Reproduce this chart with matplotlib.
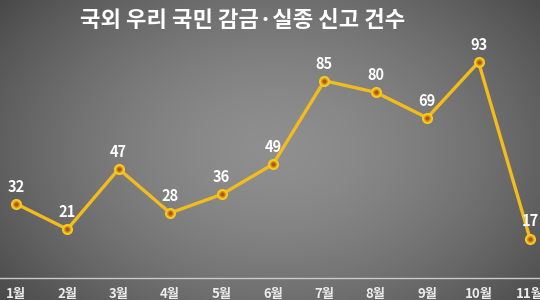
import numpy as np
import matplotlib
matplotlib.use("Agg")
import matplotlib.pyplot as plt

plt.rcParams['font.family'] = ['Noto Sans CJK KR', 'DejaVu Sans']

# data
months = ['1월', '2월', '3월', '4월', '5월', '6월', '7월', '8월', '9월', '10월', '11월']
counts = [32, 21, 47, 28, 36, 49, 85, 80, 69, 93, 17]
title = '국외 우리 국민 감금·실종 신고 건수'

fig = plt.figure(figsize=(5.4, 3.0), dpi=100)
ax = fig.add_axes([0, 0, 1, 1])
x = np.arange(len(months))
ax.set_xlim(-0.311, 10.195)
ax.set_ylim(-9.5, 119.8)
ax.axis('off')

# radial grey background
ny, nx = 300, 540
yy, xx = np.mgrid[0:ny, 0:nx]
r = np.sqrt(((xx - 275) / 330.0) ** 2 + ((yy - 150) / 230.0) ** 2)
shade = np.clip(0.56 - 0.25 * r ** 1.6, 0.27, 0.6)
bg = np.dstack([shade, shade, shade])
ax.imshow(bg, extent=(-0.311, 10.195, -9.5, 119.8), aspect='auto', zorder=0)

# baseline
ax.axhline(0, color='#c9c9c9', lw=1.0, zorder=1)

ax.plot(x, counts, color='#f2bc1b', lw=2.4, marker='o', markersize=6.5,
        markerfacecolor='#d39a12', markeredgecolor='#f7c823',
        markeredgewidth=1.5, zorder=3, solid_joinstyle='miter')
ax.plot(x, counts, ls='none', marker='o', markersize=2,
        color='#b0541a', zorder=4)

for xi, v in zip(x, counts):
    ax.annotate(str(v), (xi, v), xytext=(0, 6.5), textcoords='offset points',
                ha='center', va='bottom', color='white', fontsize=10.5,
                fontweight='bold', zorder=5)

for xi, m in zip(x, months):
    ax.text(xi, -7.0, m, ha='center', va='center', color='#ececec',
            fontsize=9.5, fontweight='bold', zorder=5)

fig.text(0.45, 0.932, title, ha='center', va='center', color='white',
         fontsize=16, fontweight='bold')

fig.savefig('out.png', dpi=100)
